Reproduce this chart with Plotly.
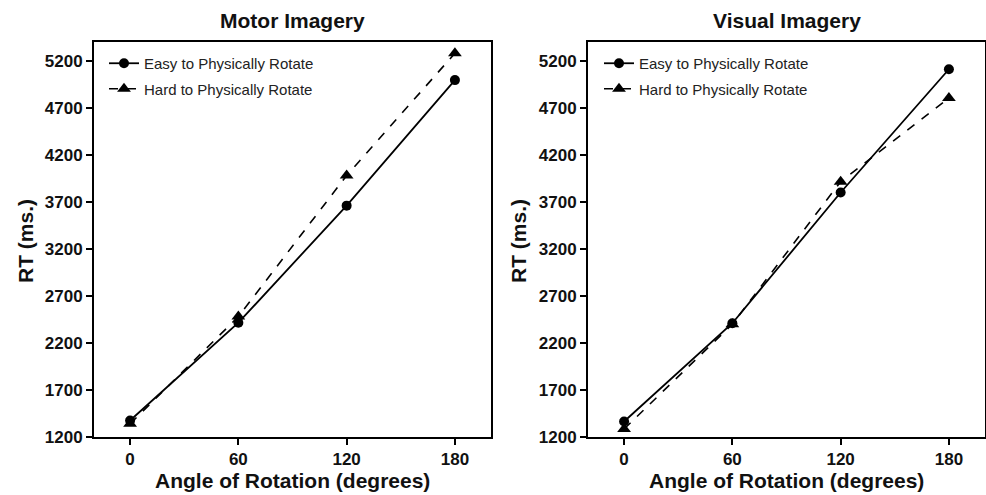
import plotly.graph_objects as go

angles = [0, 60, 120, 180]
x_ticks = [0, 60, 120, 180]
y_ticks = [1200, 1700, 2200, 2700, 3200, 3700, 4200, 4700, 5200]

motor_easy = [1375, 2415, 3660, 4995]
motor_hard = [1340, 2480, 3980, 5280]
visual_easy = [1365, 2410, 3800, 5110]
visual_hard = [1285, 2400, 3915, 4805]

panel_titles = ["Motor Imagery", "Visual Imagery"]
series_names = ["Easy to Physically Rotate", "Hard to Physically Rotate"]

W, H = 986, 495
FONT = "Liberation Sans, Arial, Helvetica, sans-serif"

fig = go.Figure()

panels = [
    (motor_easy, motor_hard, "x", "y", "legend"),
    (visual_easy, visual_hard, "x2", "y2", "legend2"),
]
for easy, hard, xa, ya, lg in panels:
    fig.add_trace(go.Scatter(
        x=angles, y=easy, name=series_names[0], xaxis=xa, yaxis=ya, legend=lg,
        legendgroup=lg + "a", mode="lines+markers",
        line=dict(color="black", width=1.8, dash="solid"),
        marker=dict(symbol="circle", size=10, color="black"),
    ))
    fig.add_trace(go.Scatter(
        x=angles, y=hard, name=series_names[1], xaxis=xa, yaxis=ya, legend=lg,
        legendgroup=lg + "b", mode="lines+markers",
        line=dict(color="black", width=1.6, dash="dash"),
        marker=dict(symbol="triangle-up", size=12, color="black"),
    ))

x_dom = [(94 / W, 491 / W), (588 / W, 985 / W)]
y_dom = ((495 - 437) / H, (495 - 42) / H)

axis_common = dict(
    showline=True, linecolor="black", linewidth=2, mirror=True,
    ticks="outside", ticklen=6, tickwidth=1.6, tickcolor="black",
    showgrid=False, zeroline=False,
    tickfont=dict(family=FONT, size=17, color="#111", weight="bold"),
    automargin=False,
)

legend_common = dict(xanchor="left", yanchor="top",
                     bgcolor="rgba(0,0,0,0)", font=dict(family=FONT, size=15, color="#222"),
                     traceorder="grouped", tracegroupgap=3, itemwidth=30)

fig.update_layout(
    width=W, height=H,
    margin=dict(l=0, r=0, t=0, b=0),
    paper_bgcolor="white", plot_bgcolor="white",
    showlegend=True,
    xaxis=dict(domain=x_dom[0], range=[-20, 200], tickvals=x_ticks, anchor="y", **axis_common),
    yaxis=dict(domain=y_dom, range=[1200, 5400], tickvals=y_ticks, anchor="x", **axis_common),
    xaxis2=dict(domain=x_dom[1], range=[-20, 200], tickvals=x_ticks, anchor="y2", **axis_common),
    yaxis2=dict(domain=y_dom, range=[1200, 5400], tickvals=y_ticks, anchor="x2", **axis_common),
    legend=dict(x=104 / W, y=(495 - 47) / H, **legend_common),
    legend2=dict(x=599 / W, y=(495 - 47) / H, **legend_common),
)

annotations = []
centers = [(94 + 491) / 2, (588 + 985) / 2]
for i, c in enumerate(centers):
    annotations.append(dict(text="<b>" + panel_titles[i] + "</b>", x=c / W, y=(495 - 20) / H,
                            xref="paper", yref="paper", showarrow=False,
                            xanchor="center", yanchor="middle",
                            font=dict(family=FONT, size=21, color="#111")))
    annotations.append(dict(text="<b>Angle of Rotation (degrees)</b>", x=c / W, y=(495 - 480) / H,
                            xref="paper", yref="paper", showarrow=False,
                            xanchor="center", yanchor="middle",
                            font=dict(family=FONT, size=21, color="#111")))
ylab_x = [25, 518]
for xx in ylab_x:
    annotations.append(dict(text="<b>RT (ms.)</b>", x=xx / W, y=(495 - 241) / H,
                            xref="paper", yref="paper", showarrow=False, textangle=-90,
                            xanchor="center", yanchor="middle",
                            font=dict(family=FONT, size=21, color="#111")))
fig.update_layout(annotations=annotations)

fig.write_html("out.html", config={"displayModeBar": False},
               post_script="document.body.style.margin='0';document.body.style.padding='0';")
